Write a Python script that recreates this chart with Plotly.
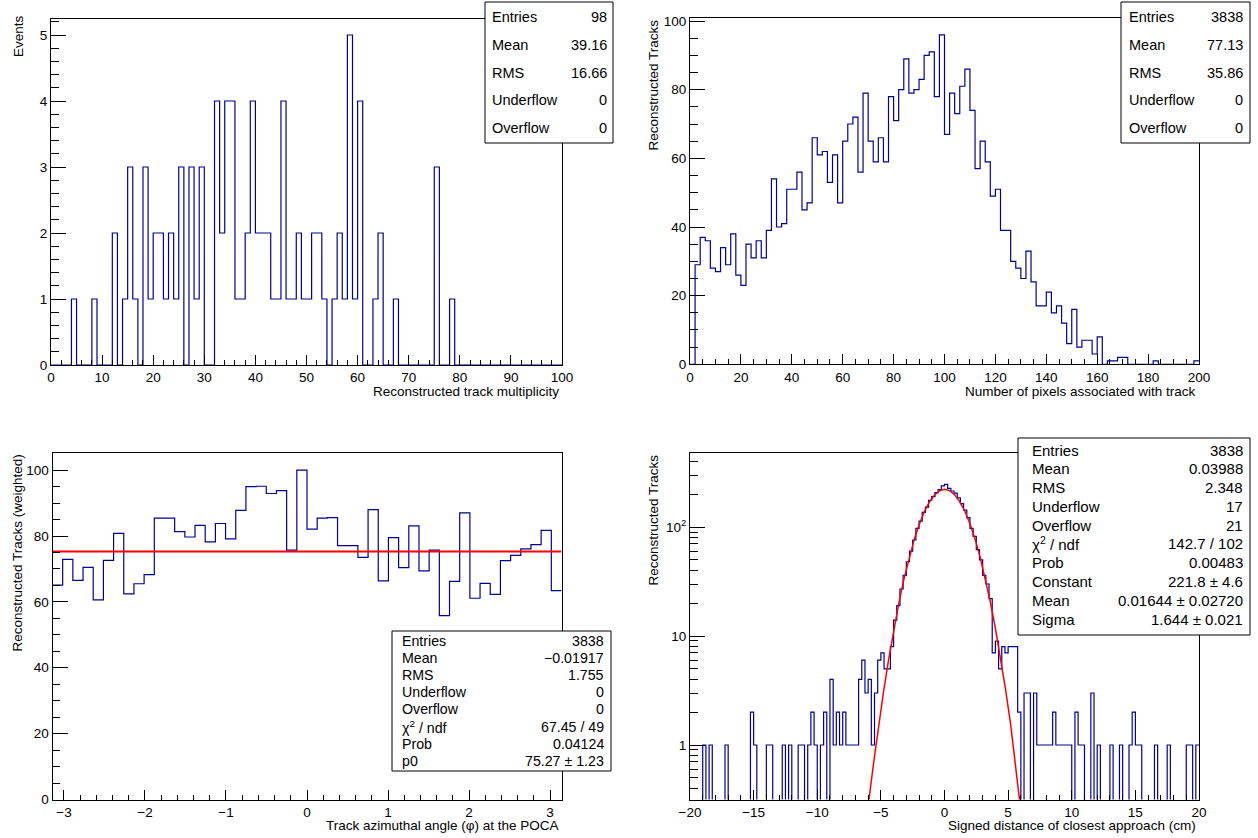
import numpy as np
import plotly.graph_objects as go

W, H = 1258, 838
FONT = "Liberation Sans, Arial, Helvetica, sans-serif"
BLUE = "#000099"
RED = "#ff0000"

# ---------------- data ----------------
# Top-left: reconstructed track multiplicity, 100 bins on [0, 100]
mult_range = (0.0, 100.0)
mult_counts = [
    0, 0, 0, 0, 1, 0, 0, 0, 1, 0,
    0, 0, 2, 0, 1, 3, 1, 0, 3, 1,
    2, 2, 1, 2, 1, 3, 0, 3, 1, 3,
    0, 0, 4, 2, 4, 4, 1, 1, 2, 4,
    2, 2, 2, 1, 1, 4, 1, 1, 2, 1,
    1, 2, 2, 1, 0, 1, 2, 1, 5, 1,
    4, 0, 0, 1, 2, 0, 0, 1, 0, 0,
    0, 0, 0, 0, 0, 3, 0, 0, 1, 0,
    0, 0, 0, 0, 0, 0, 0, 0, 0, 0,
    0, 0, 0, 0, 0, 0, 0, 0, 0, 0,
]

# Top-right: number of pixels per track, 100 bins on [0, 200]
pix_range = (0.0, 200.0)
pix_counts = [
    0, 29, 37, 36, 28, 27, 34, 29, 38, 26,
    23, 35, 31, 36, 31, 39, 54, 40, 41, 51,
    51, 56, 45, 47, 66, 61, 62, 53, 61, 47,
    65, 70, 72, 56, 79, 65, 59, 66, 59, 78,
    71, 80, 89, 79, 80, 83, 90, 91, 78, 96,
    67, 79, 73, 81, 86, 74, 57, 65, 59, 49,
    51, 39, 39, 30, 28, 25, 33, 24, 17, 17,
    21, 15, 17, 12, 6, 16, 5, 7, 7, 3,
    8, 0, 1, 1, 2, 2, 0, 0, 0, 0,
    0, 1, 0, 0, 0, 0, 0, 0, 0, 1,
]

# Bottom-left: azimuthal angle (weighted), 50 bins on [-pi, pi]
phi_range = (-np.pi, np.pi)
phi_counts = [
    65.1, 72.9, 66.5, 70.5, 60.6, 72.6, 80.8, 62.4, 65.5, 68.3,
    85.4, 85.4, 81.3, 79.7, 83.2, 78.2, 83.8, 79.1, 87.8, 95.0,
    95.1, 92.9, 93.8, 75.7, 100.0, 82.1, 85.4, 85.6, 77.1, 77.1,
    73.5, 88.0, 66.4, 79.5, 70.4, 83.1, 69.4, 75.7, 55.8, 66.2,
    87.0, 61.1, 65.6, 62.3, 72.5, 74.1, 76.1, 77.4, 81.7, 63.4,
]
phi_fit_p0 = 75.27

# Bottom-right: signed DCA, 160 bins on [-20, 20]
dca_range = (-20.0, 20.0)
dca_counts = [
    0, 0, 0, 0, 1, 0, 1, 0, 0, 0,
    0, 1, 0, 0, 0, 0, 0, 0, 0, 2,
    1, 0, 0, 0, 1, 1, 0, 0, 0, 1,
    0, 1, 0, 0, 1, 1, 0, 1, 2, 1,
    0, 1, 2, 0, 4, 1, 2, 1, 2, 1,
    1, 1, 1, 4, 6, 3, 4, 1, 3, 6,
    7, 5, 5, 8, 14, 19, 27, 36, 48, 60,
    76, 97, 113, 136, 152, 176, 190, 207, 220, 238,
    246, 226, 214, 205, 185, 164, 143, 122, 97, 82,
    62, 50, 36, 30, 22, 7, 9, 5, 8, 7,
    8, 8, 8, 2, 0, 3, 3, 0, 3, 1,
    1, 1, 1, 1, 2, 1, 1, 1, 1, 1,
    0, 2, 1, 1, 0, 0, 3, 0, 1, 0,
    0, 0, 1, 0, 0, 1, 0, 0, 1, 2,
    1, 1, 0, 0, 0, 0, 1, 0, 0, 0,
    1, 0, 0, 0, 0, 0, 1, 1, 0, 1,
]
gaus_const, gaus_mean, gaus_sigma = 221.8, 0.01644, 1.644

# Statistics boxes
stats_tl = [("Entries", "98"), ("Mean", "39.16"), ("RMS", "16.66"),
            ("Underflow", "0"), ("Overflow", "0")]
stats_tr = [("Entries", "3838"), ("Mean", "77.13"), ("RMS", "35.86"),
            ("Underflow", "0"), ("Overflow", "0")]
stats_bl = [("Entries", "3838"), ("Mean", "\u22120.01917"), ("RMS", "1.755"),
            ("Underflow", "0"), ("Overflow", "0"),
            ("\u03c7<sup>2</sup> / ndf", "67.45 / 49"), ("Prob", "0.04124"),
            ("p0", "75.27 \u00b1 1.23")]
stats_br = [("Entries", "3838"), ("Mean", "0.03988"), ("RMS", "2.348"),
            ("Underflow", "17"), ("Overflow", "21"),
            ("\u03c7<sup>2</sup> / ndf", "142.7 / 102"), ("Prob", "0.00483"),
            ("Constant", "221.8 \u00b1 4.6"), ("Mean", "0.01644 \u00b1 0.02720"),
            ("Sigma", "1.644 \u00b1 0.021")]

titles = {
    "tl_x": "Reconstructed track multiplicity", "tl_y": "Events",
    "tr_x": "Number of pixels associated with track", "tr_y": "Reconstructed Tracks",
    "bl_x": "Track azimuthal angle (\u03c6) at the POCA", "bl_y": "Reconstructed Tracks (weighted)",
    "br_x": "Signed distance of closest approach (cm)", "br_y": "Reconstructed Tracks",
}

# ---------------- helpers ----------------
def xd(a, b):
    return [a / W, b / W]

def yd(top, bottom):
    return [1 - bottom / H, 1 - top / H]

def step_xy(counts, rng, floor=None):
    n = len(counts)
    edges = np.linspace(rng[0], rng[1], n + 1)
    vals = list(counts)
    if floor is not None:
        vals = [v if v > 0 else floor for v in vals]
    return edges, vals + [vals[-1]]

def txt(x, y, s, xa="left", ya="middle", size=14.5, angle=0):
    return dict(x=x / W, y=1 - y / H, xref="paper", yref="paper", text=s,
                showarrow=False, xanchor=xa, yanchor=ya, textangle=angle,
                font=dict(family=FONT, size=size, color="black"), borderpad=0)

fig = go.Figure()

ex, ey = step_xy(mult_counts, mult_range)
fig.add_trace(go.Scatter(x=ex, y=ey, mode="lines", line=dict(color=BLUE, width=1.2, shape="hv"),
                         xaxis="x", yaxis="y", showlegend=False, hoverinfo="skip"))
ex, ey = step_xy(pix_counts, pix_range)
fig.add_trace(go.Scatter(x=ex, y=ey, mode="lines", line=dict(color=BLUE, width=1.2, shape="hv"),
                         xaxis="x2", yaxis="y2", showlegend=False, hoverinfo="skip"))
ex, ey = step_xy(phi_counts, phi_range)
fig.add_trace(go.Scatter(x=ex, y=ey, mode="lines", line=dict(color=BLUE, width=1.2, shape="hv"),
                         xaxis="x3", yaxis="y3", showlegend=False, hoverinfo="skip"))
fig.add_trace(go.Scatter(x=[phi_range[0], phi_range[1]], y=[phi_fit_p0, phi_fit_p0], mode="lines",
                         line=dict(color=RED, width=2), xaxis="x3", yaxis="y3",
                         showlegend=False, hoverinfo="skip"))
ex, ey = step_xy(dca_counts, dca_range, floor=1e-3)
fig.add_trace(go.Scatter(x=ex, y=ey, mode="lines", line=dict(color=BLUE, width=1.2, shape="hv"),
                         xaxis="x4", yaxis="y4", showlegend=False, hoverinfo="skip"))
gx = np.linspace(dca_range[0], dca_range[1], 101)
gy = gaus_const * np.exp(-0.5 * ((gx - gaus_mean) / gaus_sigma) ** 2)
gy = np.maximum(gy, 1e-6)
fig.add_trace(go.Scatter(x=gx, y=gy, mode="lines", line=dict(color=RED, width=1.5),
                         xaxis="x4", yaxis="y4", showlegend=False, hoverinfo="skip"))

base = dict(showline=True, linecolor="black", linewidth=1, mirror=True, ticks="inside",
            tickcolor="black", tickwidth=1, showgrid=False, zeroline=False, automargin=False,
            tickfont=dict(family=FONT, size=13.5, color="black"))

def xax(dom, anchor, rng, dtick, mdtick):
    d = dict(base)
    d.update(domain=dom, anchor=anchor, range=list(rng), tick0=0, dtick=dtick, ticklen=10,
             minor=dict(tick0=0, dtick=mdtick, ticklen=5, ticks="inside", tickcolor="black",
                        tickwidth=1, showgrid=False))
    return d

def yax(dom, anchor, rng, dtick, mdtick):
    d = dict(base)
    d.update(domain=dom, anchor=anchor, range=list(rng), tick0=0, dtick=dtick, ticklen=15,
             minor=dict(tick0=0, dtick=mdtick, ticklen=7.5, ticks="inside", tickcolor="black",
                        tickwidth=1, showgrid=False))
    return d

minor_log = [0.4, 0.5, 0.6, 0.7, 0.8, 0.9] + [k for k in range(2, 10)] + \
            [k * 10 for k in range(2, 10)] + [200, 300, 400]
ylog = dict(base)
ylog.update(domain=yd(453, 799.5), anchor="x4", type="log", range=[-0.5, 2.679],
            tickmode="array", tickvals=[1, 10, 100], ticktext=["1", "10", "10<sup>2</sup>"],
            ticklen=15,
            minor=dict(tickmode="array", tickvals=minor_log, ticklen=7.5, ticks="inside",
                       tickcolor="black", tickwidth=1, showgrid=False))

fig.update_layout(
    template="none",
    width=W, height=H, autosize=False,
    margin=dict(l=0, r=0, t=0, b=0, pad=0, autoexpand=False),
    paper_bgcolor="white", plot_bgcolor="white",
    xaxis=xax(xd(51, 562), "y", (0, 100), 10, 2),
    yaxis=yax(yd(18.5, 365), "x", (0, 5.25), 1, 0.2),
    xaxis2=xax(xd(690, 1199), "y2", (0, 200), 20, 5),
    yaxis2=yax(yd(18.3, 364.3), "x2", (0, 100.8), 20, 5),
    xaxis3=xax(xd(52.5, 561.5), "y3", (-np.pi, np.pi), 1, 0.2),
    yaxis3=yax(yd(453, 799.5), "x3", (0, 105.2), 20, 5),
    xaxis4=xax(xd(690, 1199), "y4", (-20, 20), 5, 1),
    yaxis4=ylog,
)

shapes = []
ann = []

def statbox(x0, y0, x1, y1, rows, lx, rx, ys, size):
    shapes.append(dict(type="rect", xref="paper", yref="paper", x0=x0 / W, x1=x1 / W,
                       y0=1 - y1 / H, y1=1 - y0 / H, line=dict(color="black", width=1),
                       fillcolor="white", layer="above"))
    for (k, v), y in zip(rows, ys):
        ann.append(txt(lx, y, k, xa="left", size=size))
        ann.append(txt(rx, y, v, xa="right", size=size))

statbox(485, 2, 613, 143, stats_tl, 491, 608, [17, 45, 73, 100, 128], 14.5)
statbox(1121, 2, 1250, 143, stats_tr, 1128, 1244, [17, 45, 73, 100, 128], 14.5)
statbox(392, 631, 611, 771, stats_bl, 401, 605,
        [641, 658, 675, 692, 709, 727, 744, 761], 14.2)
statbox(1018, 438, 1250, 635, stats_br, 1031, 1244,
        [450, 468.5, 487.5, 506, 525, 543.5, 562, 581, 600, 619], 15)

ann.append(txt(560, 391, titles["tl_x"], xa="right", size=13.5))
ann.append(txt(1197, 391, titles["tr_x"], xa="right", size=13.5))
ann.append(txt(560, 825.5, titles["bl_x"], xa="right", size=13.5))
ann.append(txt(1197, 825.5, titles["br_x"], xa="right", size=13.5))
ann.append(txt(18, 14, titles["tl_y"], xa="center", ya="top", size=13.5, angle=-90))
ann.append(txt(653, 19, titles["tr_y"], xa="center", ya="top", size=13.5, angle=-90))
ann.append(txt(17, 454, titles["bl_y"], xa="center", ya="top", size=13.5, angle=-90))
ann.append(txt(653, 454, titles["br_y"], xa="center", ya="top", size=13.5, angle=-90))

fig.update_layout(shapes=shapes, annotations=ann)

fig.write_html("out.html", config={"displayModeBar": False},
               post_script="document.body.style.margin='0';")
